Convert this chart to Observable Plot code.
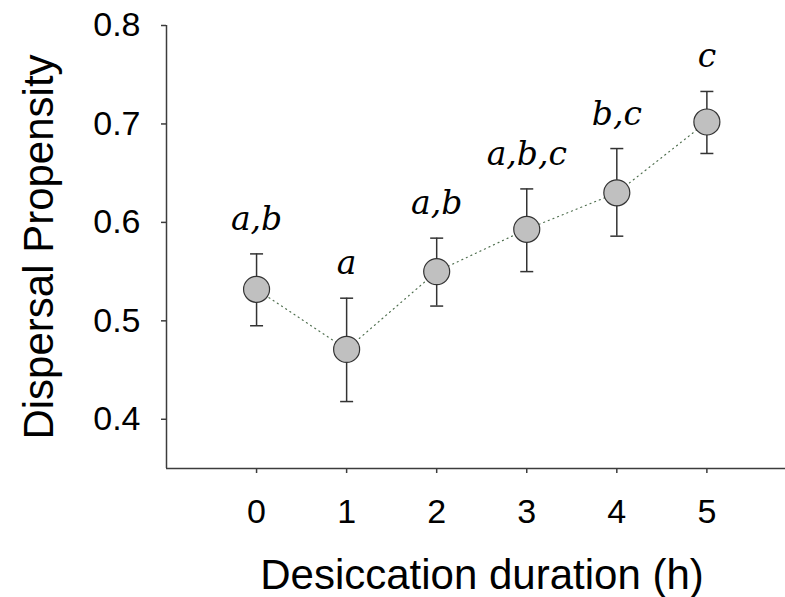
<!DOCTYPE html>
<html>
<head>
<meta charset="utf-8">
<script src="https://cdn.jsdelivr.net/npm/d3@7"></script>
<script src="https://cdn.jsdelivr.net/npm/@observablehq/plot@0.6"></script>
<style>
  html, body { margin: 0; padding: 0; background: #fff; }
  #chart svg { display: block; }
</style>
</head>
<body>
<div id="chart"></div>
<script>
// Dispersal propensity (mean ± error) by desiccation duration
const duration = [0, 1, 2, 3, 4, 5];
const meanValue = [0.532, 0.471, 0.550, 0.593, 0.630, 0.702];
const lowerValue = [0.495, 0.418, 0.515, 0.550, 0.586, 0.670];
const upperValue = [0.568, 0.523, 0.584, 0.634, 0.675, 0.733];
const groupLetters = ["a,b", "a", "a,b", "a,b,c", "b,c", "c"];
const xTicks = [0, 1, 2, 3, 4, 5];
const yTicks = [0.4, 0.5, 0.6, 0.7, 0.8];
const xTitle = "Desiccation duration (h)";
const yTitle = "Dispersal Propensity";

const rows = duration.map((d, i) => ({
  x: d, mean: meanValue[i], lo: lowerValue[i], hi: upperValue[i], letters: groupLetters[i]
}));

const axisColor = "#3c3c3c";
const sans = "'Liberation Sans', Arial, sans-serif";

// horizontal cap symbol for the error bars
const cap = {
  draw(ctx, size) {
    const h = Math.sqrt(size / Math.PI);
    ctx.moveTo(-h, 0);
    ctx.lineTo(h, 0);
  }
};

const chart = Plot.plot({
  width: 785,
  height: 597,
  marginLeft: 166,
  marginRight: 0,
  marginTop: 25,
  marginBottom: 129,
  style: { fontFamily: sans, background: "#fff", color: "#000" },
  x: { domain: [-1, 5.873] },
  y: { domain: [0.35, 0.8] },
  marks: [
    Plot.axisY({
      ticks: yTicks, tickSize: 5, tickPadding: 21, fontSize: 34,
      tickFormat: d3.format(".1f"), label: null, stroke: axisColor, strokeWidth: 1.5
    }),
    Plot.axisX({
      ticks: xTicks, tickSize: 5, tickPadding: 25, fontSize: 34,
      tickFormat: d3.format("d"), label: null, stroke: axisColor, strokeWidth: 1.5
    }),
    Plot.ruleX([-1], { y1: 0.35, y2: 0.8, stroke: axisColor, strokeWidth: 1.5 }),
    Plot.ruleY([0.35], { stroke: axisColor, strokeWidth: 1.5 }),
    // dotted connecting line
    Plot.line(rows, {
      x: "x", y: "mean", stroke: "#4f6f4f", strokeWidth: 1.2, strokeDasharray: "1,4"
    }),
    // error bars
    Plot.ruleX(rows, { x: "x", y1: "lo", y2: "hi", stroke: "#333", strokeWidth: 1.5 }),
    Plot.dot(rows, { x: "x", y: "lo", symbol: cap, r: 6.5, stroke: "#333", strokeWidth: 1.5, fill: "none" }),
    Plot.dot(rows, { x: "x", y: "hi", symbol: cap, r: 6.5, stroke: "#333", strokeWidth: 1.5, fill: "none" }),
    // means
    Plot.dot(rows, { x: "x", y: "mean", r: 13, fill: "#c0c0c0", stroke: "#333", strokeWidth: 1.2 }),
    // significance letters
    Plot.text(rows, {
      x: "x", y: "hi", text: "letters", lineAnchor: "bottom", dy: -24,
      fontSize: 33, fontStyle: "italic",
      fontFamily: "'DejaVu Serif', serif", fill: "#000"
    }),
    // axis titles
    Plot.text([xTitle], {
      frameAnchor: "bottom", textAnchor: "middle", lineAnchor: "bottom", dy: 120, dx: 6,
      fontSize: 42, fontFamily: sans, fill: "#000"
    }),
    Plot.text([yTitle], {
      frameAnchor: "left", textAnchor: "middle", lineAnchor: "bottom", rotate: -90, dx: -114,
      fontSize: 42, fontFamily: sans, fill: "#000"
    })
  ]
});

document.getElementById("chart").appendChild(chart);
</script>
</body>
</html>
